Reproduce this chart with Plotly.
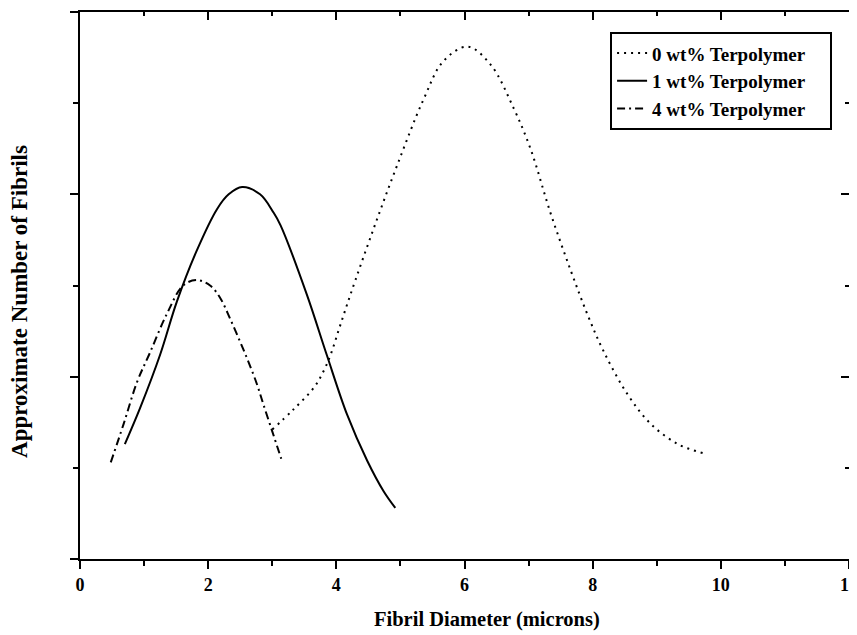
import plotly.graph_objects as go

# 0 wt% Terpolymer
x0 = [3.0, 3.33, 3.65, 3.80, 3.91, 4.05, 4.22, 4.58, 4.95, 5.36, 5.67, 6.05, 6.41, 6.77,
      7.03, 7.34, 7.66, 7.92, 8.17, 8.55, 8.91, 9.33, 9.73]
y0 = [0.71, 0.82, 0.94, 1.03, 1.12, 1.27, 1.45, 1.81, 2.16, 2.52, 2.73, 2.81, 2.71, 2.47,
      2.25, 1.90, 1.58, 1.34, 1.14, 0.90, 0.74, 0.63, 0.58]
# 1 wt% Terpolymer
x1 = [0.70, 0.94, 1.25, 1.51, 1.82, 2.14, 2.32, 2.53, 2.81, 3.02, 3.13, 3.54, 3.85, 4.17,
      4.48, 4.74, 4.92]
y1 = [0.63, 0.83, 1.12, 1.41, 1.69, 1.92, 2.00, 2.04, 2.00, 1.90, 1.83, 1.45, 1.12, 0.79,
      0.54, 0.37, 0.28]
# 4 wt% Terpolymer
x4 = [0.48, 0.68, 0.89, 1.09, 1.35, 1.61, 1.82, 2.03, 2.19, 2.34, 2.50, 2.63, 2.76, 2.86,
      3.00, 3.14]
y4 = [0.53, 0.74, 0.97, 1.13, 1.34, 1.50, 1.53, 1.50, 1.43, 1.32, 1.19, 1.08, 0.96, 0.85,
      0.70, 0.55]

names = ["0 wt% Terpolymer", "1 wt% Terpolymer", "4 wt% Terpolymer"]
xtick_vals = [0, 2, 4, 6, 8, 10, 12]
x_title = "Fibril Diameter (microns)"
y_title = "Approximate Number of Fibrils"

FONT = "Liberation Serif"
PAD = "\u00a0" * 4

fig = go.Figure()
fig.add_trace(go.Scatter(x=x0, y=y0, mode="lines", name=f"<b>{names[0]}</b>{PAD}",
                         line=dict(color="black", width=2, dash="2px,5px",
                                   shape="spline", smoothing=1.0)))
fig.add_trace(go.Scatter(x=x1, y=y1, mode="lines", name=f"<b>{names[1]}</b>{PAD}",
                         line=dict(color="black", width=2, dash="solid",
                                   shape="spline", smoothing=1.0)))
fig.add_trace(go.Scatter(x=x4, y=y4, mode="lines", name=f"<b>{names[2]}</b>{PAD}",
                         line=dict(color="black", width=2, dash="8px,4px,2px,4px",
                                   shape="spline", smoothing=1.0)))
# invisible trace to activate top/right mirror axes
fig.add_trace(go.Scatter(x=[0, 12], y=[0, 3], xaxis="x2", yaxis="y2", mode="markers",
                         marker=dict(opacity=0), showlegend=False, hoverinfo="skip"))

axis_common = dict(showline=True, linecolor="black", linewidth=2, showgrid=False,
                   zeroline=False, tickcolor="black", tickwidth=2)

fig.update_layout(
    width=849, height=627,
    margin=dict(l=72, r=8, t=4, b=76),
    paper_bgcolor="white", plot_bgcolor="white",
    font=dict(family=FONT, color="black"),
    showlegend=True,
    legend=dict(x=0.978, y=0.963, xanchor="right", yanchor="top",
                bordercolor="black", borderwidth=2, bgcolor="white",
                font=dict(family=FONT, size=19, color="black"),
                tracegroupgap=0),
    xaxis=dict(range=[0, 12], tickvals=xtick_vals,
               ticktext=[f"<b>{v}</b>" for v in xtick_vals],
               ticks="outside", ticklen=8, ticklabeloverflow="allow",
               minor=dict(dtick=1, ticks="outside", ticklen=5, tickwidth=2, tickcolor="black"),
               tickfont=dict(family=FONT, size=18, color="black"),
               automargin=False, **axis_common),
    yaxis=dict(range=[0, 3], dtick=1, showticklabels=False,
               ticks="outside", ticklen=8,
               minor=dict(dtick=0.5, ticks="outside", ticklen=5, tickwidth=2, tickcolor="black"),
               automargin=False, **axis_common),
    xaxis2=dict(range=[0, 12], overlaying="x", side="top", dtick=2, showticklabels=False,
                ticks="inside", ticklen=8,
                minor=dict(dtick=1, ticks="inside", ticklen=4, tickwidth=2, tickcolor="black"),
                automargin=False, **axis_common),
    yaxis2=dict(range=[0, 3], overlaying="y", side="right", dtick=1, showticklabels=False,
                ticks="inside", ticklen=8,
                minor=dict(dtick=0.5, ticks="inside", ticklen=4, tickwidth=2, tickcolor="black"),
                automargin=False, **axis_common),
    annotations=[
        dict(text=f"<b>{x_title}</b>", xref="paper", yref="paper", x=0.529, y=-0.1115,
             xanchor="center", yanchor="middle", showarrow=False,
             font=dict(family=FONT, size=20.5, color="black")),
        dict(text=f"<b>{y_title}</b>", xref="paper", yref="paper", x=-0.078, y=0.47,
             xanchor="center", yanchor="middle", showarrow=False, textangle=-90,
             font=dict(family=FONT, size=23, color="black")),
    ],
)

fig.write_html("out.html")
